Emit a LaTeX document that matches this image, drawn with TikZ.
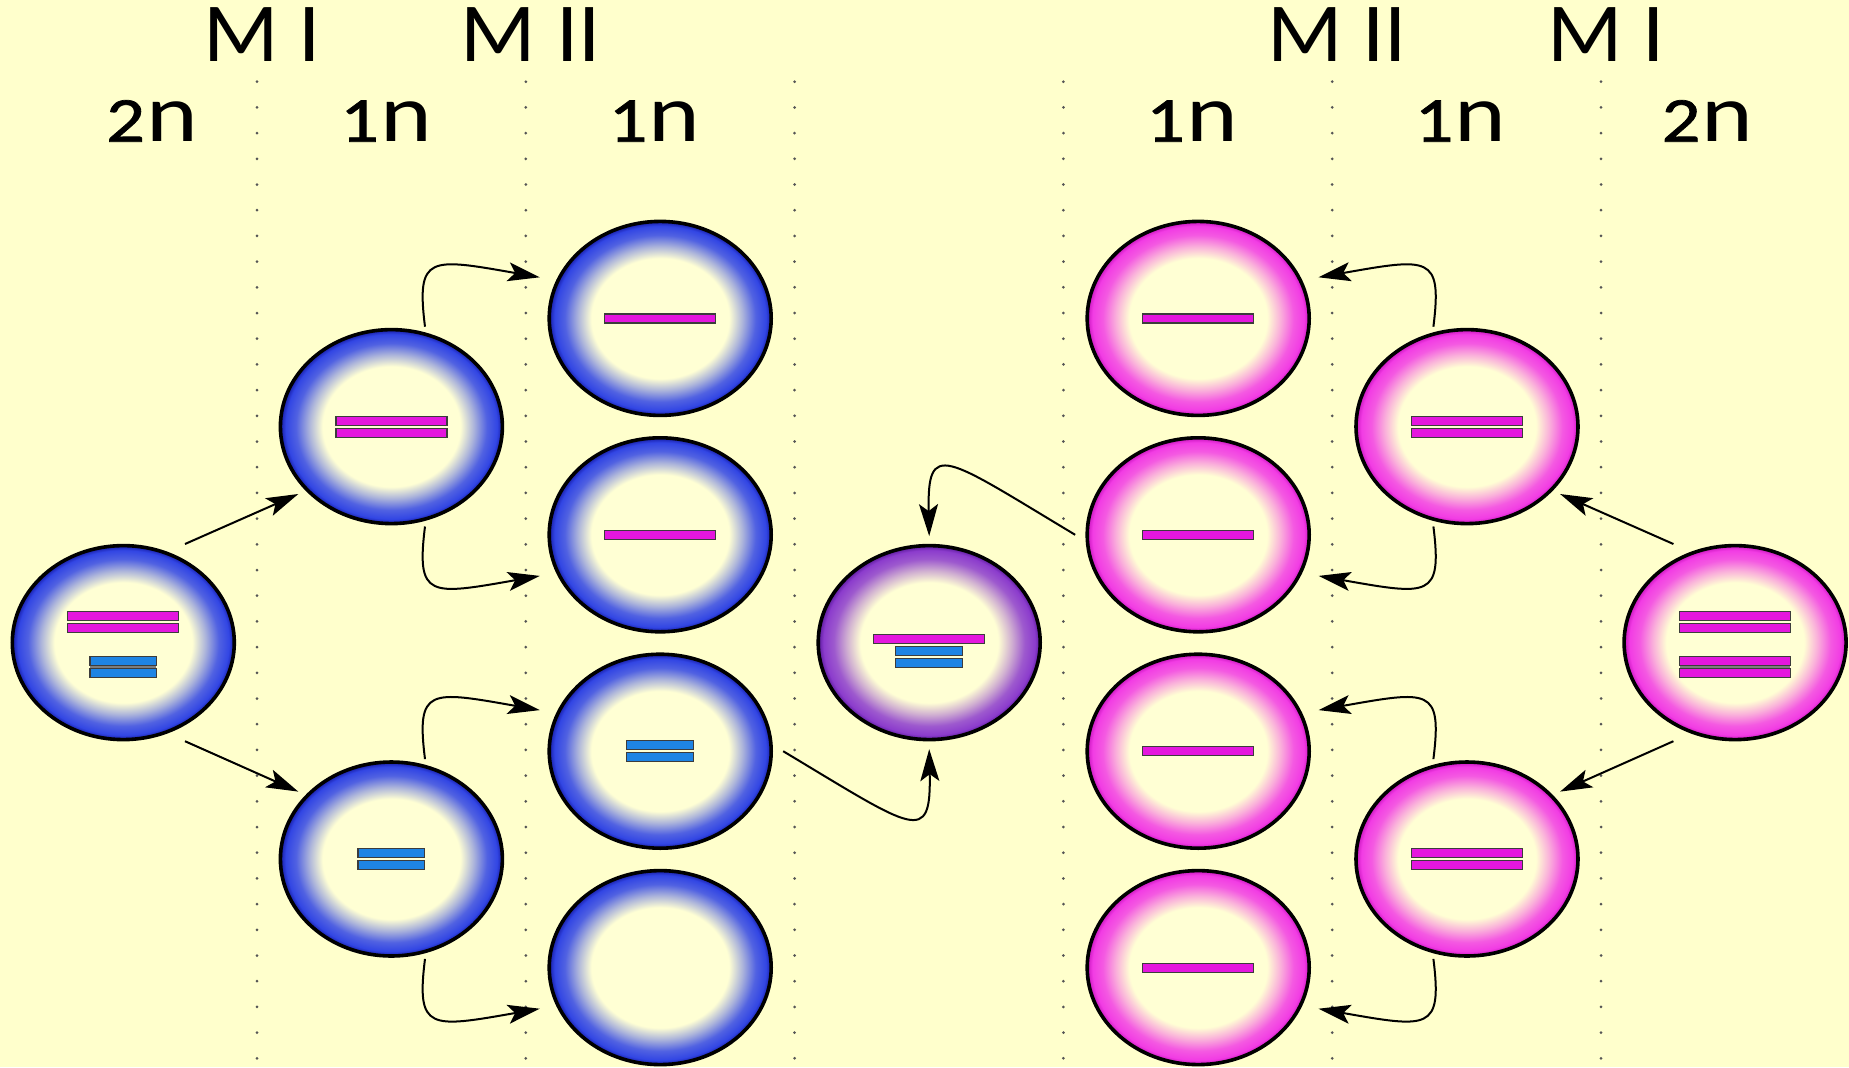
\documentclass[tikz,border=0pt]{standalone}
\usepackage{graphicx}
\usepackage{fontspec}
\setmainfont{Carlito}
\newfontfamily\digitfont{Carlito}[FakeBold=1.1]
% small, x-height figures set against the normal-size n
\newcommand{\lowfig}[1]{{\digitfont\fontsize{32}{32}\selectfont #1}}
\newcommand{\ploidy}[1]{\scalebox{1.2}[1]{\lowfig{#1}\kern0.5pt n}}
\usetikzlibrary{shapes.geometric,arrows.meta}

\definecolor{paper}{RGB}{255,255,204}
\definecolor{cream}{RGB}{255,255,212}
\definecolor{cblue}{RGB}{50,70,228}
\definecolor{cbluedk}{RGB}{22,28,165}
\definecolor{cpink}{RGB}{242,60,228}
\definecolor{cpinkdk}{RGB}{200,20,190}
\definecolor{cpurp}{RGB}{140,60,205}
\definecolor{cpurpdk}{RGB}{90,25,155}
\definecolor{barpink}{RGB}{228,22,222}
\definecolor{barblue}{RGB}{30,132,228}
\definecolor{barline}{RGB}{60,60,60}
\definecolor{gapgray}{RGB}{125,125,125}
\definecolor{dotgray}{RGB}{85,85,85}

% radial cell shadings: the path boundary sits at 25bp
\pgfdeclareradialshading{bluecell}{\pgfpoint{0bp}{0bp}}{%
  color(0bp)=(cream); color(15.5bp)=(cream); color(18.5bp)=(cblue!40!cream);
  color(21.5bp)=(cblue!85!cream); color(23.8bp)=(cblue); color(25bp)=(cbluedk);
  color(50bp)=(cbluedk)}
\pgfdeclareradialshading{pinkcell}{\pgfpoint{0bp}{0bp}}{%
  color(0bp)=(cream); color(15.5bp)=(cream); color(18.5bp)=(cpink!40!cream);
  color(21.5bp)=(cpink!85!cream); color(23.8bp)=(cpink); color(25bp)=(cpinkdk);
  color(50bp)=(cpinkdk)}
\pgfdeclareradialshading{purpcell}{\pgfpoint{0bp}{0bp}}{%
  color(0bp)=(cream); color(15.5bp)=(cream); color(18.5bp)=(cpurp!40!cream);
  color(21.5bp)=(cpurp!85!cream); color(23.8bp)=(cpurp); color(25bp)=(cpurpdk);
  color(50bp)=(cpurpdk)}

\begin{document}
\begin{tikzpicture}[x=0.5pt,y=-0.5pt,
  cell/.style={ellipse, draw=black, line width=1.8pt, minimum width=111pt,
    minimum height=97pt, inner sep=0pt, outer sep=0pt},
  bluec/.style={cell, shading=bluecell},
  pinkc/.style={cell, shading=pinkcell},
  purpc/.style={cell, shading=purpcell},
  bar/.style={rectangle, draw=barline, line width=0.6pt, minimum height=4.5pt,
    inner sep=0pt, outer sep=0pt},
  pbar/.style={bar, fill=barpink, minimum width=55.5pt},
  bbar/.style={bar, fill=barblue, minimum width=33.4pt},
  sep/.style={dotgray, line width=1.5pt, line cap=round, dash pattern=on 0pt off 12.85pt},
  arr/.style={black, line width=1pt, -{Stealth[length=16pt,width=9.5pt,inset=3.5pt]}},
  toplab/.style={anchor=base, inner sep=0pt, font=\fontsize{42}{42}\selectfont},
  plab/.style={anchor=base, inner sep=0pt, font=\fontsize{41}{41}\selectfont}]

% background
\fill[paper] (0,0) rectangle (1849,1067);
\useasboundingbox (0,0) rectangle (1849,1067);

% column separators
\foreach \x in {257,525.8,794.6,1063.4,1332.2,1601}
  \draw[sep] (\x,81.7) -- (\x,1067);

% headings
\node[toplab] (mIl) at (262,61.7) {\scalebox{1.05}[1]{M I}};
\node[toplab] (mIIl) at (530.8,61.7) {\scalebox{1.05}[1]{M II}};
\node[toplab] (mIIr) at (1337.2,61.7) {\scalebox{1.05}[1]{M II}};
\node[toplab] (mIr) at (1606,61.7) {\scalebox{1.05}[1]{M I}};
\node[plab] (pl0) at (152,141.7) {\ploidy{2}};
\node[plab] (pl1) at (386,141.7) {\ploidy{1}};
\node[plab] (pl2) at (654.5,141.7) {\ploidy{1}};
\node[plab] (pr2) at (1192,141.7) {\ploidy{1}};
\node[plab] (pr1) at (1460.5,141.7) {\ploidy{1}};
\node[plab] (pr0) at (1707.5,141.7) {\ploidy{2}};

% cells
\node[bluec] (l2n) at (123.3,642.6) {};
\node[bluec] (la) at (391.4,426.6) {};
\node[bluec] (lb) at (391.4,859) {};
\node[bluec] (l1) at (660.2,318.4) {};
\node[bluec] (l2) at (660.2,534.8) {};
\node[bluec] (l3) at (660.2,751.2) {};
\node[bluec] (l4) at (660.2,967.6) {};
\node[purpc] (mid) at (929.2,642.6) {};
\node[pinkc] (r1) at (1198.2,318.4) {};
\node[pinkc] (r2) at (1198.2,534.8) {};
\node[pinkc] (r3) at (1198.2,751.2) {};
\node[pinkc] (r4) at (1198.2,967.6) {};
\node[pinkc] (ra) at (1467,426.6) {};
\node[pinkc] (rb) at (1467,859) {};
\node[pinkc] (r2n) at (1735.1,642.6) {};

% chromosomes
\fill[gapgray] ([shift={(-33,18)}]l2n.center) rectangle ([shift={(33,30)}]l2n.center);
\node[pbar] (l2n-p1) at ([shift={(0,-26.5)}]l2n.center) {};
\node[pbar] (l2n-p2) at ([shift={(0,-14.5)}]l2n.center) {};
\node[bbar] (l2n-b1) at ([shift={(0,18)}]l2n.center) {};
\node[bbar] (l2n-b2) at ([shift={(0,30)}]l2n.center) {};

\node[pbar] (la-p1) at ([shift={(0,-6)}]la.center) {};
\node[pbar] (la-p2) at ([shift={(0,6)}]la.center) {};
\node[bbar] (lb-b1) at ([shift={(0,-6)}]lb.center) {};
\node[bbar] (lb-b2) at ([shift={(0,6)}]lb.center) {};

\node[pbar] (l1-p) at (l1.center) {};
\node[pbar] (l2-p) at (l2.center) {};
\node[bbar] (l3-b1) at ([shift={(0,-6)}]l3.center) {};
\node[bbar] (l3-b2) at ([shift={(0,6)}]l3.center) {};

\node[pbar] (mid-p) at ([shift={(0,-4)}]mid.center) {};
\node[bbar] (mid-b1) at ([shift={(0,8.7)}]mid.center) {};
\node[bbar] (mid-b2) at ([shift={(0,20.2)}]mid.center) {};

\node[pbar] (r1-p) at (r1.center) {};
\node[pbar] (r2-p) at (r2.center) {};
\node[pbar] (r3-p) at (r3.center) {};
\node[pbar] (r4-p) at (r4.center) {};
\node[pbar] (ra-p1) at ([shift={(0,-6)}]ra.center) {};
\node[pbar] (ra-p2) at ([shift={(0,6)}]ra.center) {};
\node[pbar] (rb-p1) at ([shift={(0,-6)}]rb.center) {};
\node[pbar] (rb-p2) at ([shift={(0,6)}]rb.center) {};

\fill[gapgray] ([shift={(-55,18)}]r2n.center) rectangle ([shift={(55,30)}]r2n.center);
\node[pbar] (r2n-p1) at ([shift={(0,-26.5)}]r2n.center) {};
\node[pbar] (r2n-p2) at ([shift={(0,-14.5)}]r2n.center) {};
\node[pbar] (r2n-p3) at ([shift={(0,18)}]r2n.center) {};
\node[pbar] (r2n-p4) at ([shift={(0,30)}]r2n.center) {};

% first division
\draw[arr] ([shift={(61.7,-98.6)}]l2n.center) -- ([shift={(-93.1,67.4)}]la.center);
\draw[arr] ([shift={(61.7,98.6)}]l2n.center) -- ([shift={(-93.1,-67.4)}]lb.center);
\draw[arr] ([shift={(-61.7,-98.6)}]r2n.center) -- ([shift={(93.1,67.4)}]ra.center);
\draw[arr] ([shift={(-61.7,98.6)}]r2n.center) -- ([shift={(93.1,-67.4)}]rb.center);

% second division
\draw[arr] ([shift={(33.6,-99.9)}]la.center) .. controls +(-9,-72) and +(-110,-19.3) .. ([shift={(-120.4,-41.1)}]l1.center);
\draw[arr] ([shift={(33.6,99.9)}]la.center) .. controls +(-9,72) and +(-110,19.3) .. ([shift={(-120.4,41.1)}]l2.center);
\draw[arr] ([shift={(33.6,-99.9)}]lb.center) .. controls +(-9,-72) and +(-110,-19.3) .. ([shift={(-120.4,-41.1)}]l3.center);
\draw[arr] ([shift={(33.6,99.9)}]lb.center) .. controls +(-9,72) and +(-110,19.3) .. ([shift={(-120.4,41.1)}]l4.center);
\draw[arr] ([shift={(-33.6,-99.9)}]ra.center) .. controls +(9,-72) and +(110,-19.3) .. ([shift={(120.4,-41.1)}]r1.center);
\draw[arr] ([shift={(-33.6,99.9)}]ra.center) .. controls +(9,72) and +(110,19.3) .. ([shift={(120.4,41.1)}]r2.center);
\draw[arr] ([shift={(-33.6,-99.9)}]rb.center) .. controls +(9,-72) and +(110,-19.3) .. ([shift={(120.4,-41.1)}]r3.center);
\draw[arr] ([shift={(-33.6,99.9)}]rb.center) .. controls +(9,72) and +(110,19.3) .. ([shift={(120.4,41.1)}]r4.center);

% fertilisation
\draw[arr] ([shift={(123,0)}]l3.center) .. controls +(131.7,79) and +(2,97) .. ([shift={(0,106.5)}]mid.center);
\draw[arr] ([shift={(-123,0)}]r2.center) .. controls +(-131.7,-79) and +(-2,-97) .. ([shift={(0,-106.5)}]mid.center);

\end{tikzpicture}
\end{document}
